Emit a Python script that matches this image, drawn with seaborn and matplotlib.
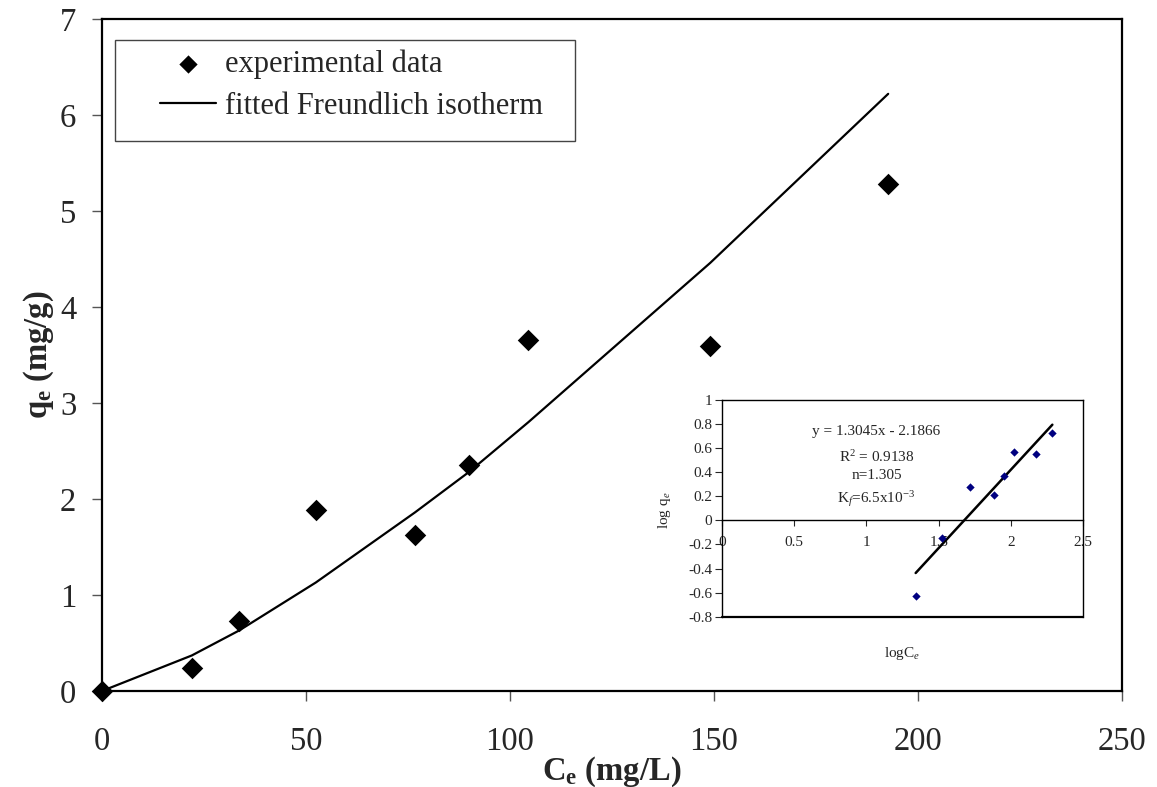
import matplotlib
matplotlib.use("Agg")
import matplotlib.pyplot as plt
from matplotlib.patches import Rectangle
import seaborn as sns
import pandas as pd

# ---- data ----
ce_exp = [0, 22.0, 33.6, 52.4, 76.7, 89.9, 104.5, 149.1, 192.7]
qe_exp = [0, 0.24, 0.73, 1.885, 1.62, 2.35, 3.66, 3.59, 5.28]
qe_fit = [0, 0.37, 0.63, 1.13, 1.86, 2.28, 2.80, 4.46, 6.22]

log_ce = [1.341, 1.525, 1.717, 1.885, 1.952, 2.018, 2.175, 2.286]
log_qe = [-0.626, -0.144, 0.277, 0.208, 0.366, 0.565, 0.554, 0.726]
trend_x = [1.341, 2.286]
trend_y = [-0.437, 0.795]

x_ticks = [0, 50, 100, 150, 200, 250]
y_ticks = [0, 1, 2, 3, 4, 5, 6, 7]
in_x_ticks = [0, 0.5, 1, 1.5, 2, 2.5]
in_x_labels = ["0", "0.5", "1", "1.5", "2", "2.5"]
in_y_ticks = [-0.8, -0.6, -0.4, -0.2, 0, 0.2, 0.4, 0.6, 0.8, 1]
in_y_labels = ["-0.8", "-0.6", "-0.4", "-0.2", "0", "0.2", "0.4", "0.6", "0.8", "1"]

inset_text = ["y = 1.3045x - 2.1866", r"R$^2$ = 0.9138", "n=1.305",
              r"K$_f$=6.5x10$^{-3}$"]

sns.set_style("ticks")
plt.rcParams["font.family"] = ["Liberation Serif", "DejaVu Serif"]
plt.rcParams["mathtext.fontset"] = "custom"
plt.rcParams["mathtext.rm"] = "Liberation Serif"
plt.rcParams["mathtext.it"] = "Liberation Serif:italic"
plt.rcParams["mathtext.bf"] = "Liberation Serif:bold"

fig = plt.figure(figsize=(11.57, 7.87), dpi=100)
ax = fig.add_axes([0.0882, 0.122, 0.8815, 0.8539])

df_exp = pd.DataFrame({"Ce": ce_exp, "qe": qe_exp})
df_fit = pd.DataFrame({"Ce": ce_exp, "qe": qe_fit})

sns.scatterplot(data=df_exp, x="Ce", y="qe", ax=ax, marker="D", s=120,
                color="black", edgecolor="black", linewidth=0,
                label="experimental data", clip_on=False, zorder=3)
sns.lineplot(data=df_fit, x="Ce", y="qe", ax=ax, color="black", lw=1.6,
             sort=False, label="fitted Freundlich isotherm", zorder=2)

ax.set_xlim(0, 250)
ax.set_ylim(0, 7)
ax.set_xticks(x_ticks)
ax.set_yticks(y_ticks)
ax.tick_params(axis="both", labelsize=23.5, length=7.5, width=1, color="#555555",
               direction="out")
ax.tick_params(axis="x", pad=18)
ax.tick_params(axis="y", pad=11)
for sp in ax.spines.values():
    sp.set_visible(True)
    sp.set_color("black")
    sp.set_linewidth(1.6)

ax.set_xlabel(r"$\mathbf{C_e}$ (mg/L)", fontsize=23.5, fontweight="bold", labelpad=-2)
ax.set_ylabel(r"$\mathbf{q_e}$ (mg/g)", fontsize=23.5, fontweight="bold", labelpad=3)

# legend frame (drawn as in the reference, with wide side margins)
ax.add_patch(Rectangle((0.0127, 0.8185), 0.451, 0.1503, transform=ax.transAxes,
                       facecolor="white", edgecolor="#444444", lw=1.0, zorder=4))
leg = ax.legend(loc="upper left", bbox_to_anchor=(0.0475, 0.9688),
                borderaxespad=0, fontsize=22, frameon=False,
                handlelength=1.83, handletextpad=0.3, labelspacing=0.42,
                borderpad=0.31, markerscale=0.85)
leg.set_zorder(5)

# ---- inset ----
ins = fig.add_axes([0.6238, 0.2164, 0.3125, 0.2753])
ins.set_facecolor("white")
df_log = pd.DataFrame({"logC": log_ce, "logq": log_qe})
df_tr = pd.DataFrame({"x": trend_x, "y": trend_y})
sns.lineplot(data=df_tr, x="x", y="y", ax=ins, color="black", lw=1.8,
             sort=False, zorder=2)
sns.scatterplot(data=df_log, x="logC", y="logq", ax=ins, marker="D", s=18,
                color="#000080", edgecolor="#000080", linewidth=0, zorder=3)
ins.set_xlim(0, 2.5)
ins.set_ylim(-0.8, 1)
ins.set_xticks(in_x_ticks)
ins.set_xticklabels(in_x_labels)
ins.set_yticks(in_y_ticks)
ins.set_yticklabels(in_y_labels)
for sp in ins.spines.values():
    sp.set_visible(True)
    sp.set_color("black")
    sp.set_linewidth(1.0)
ins.spines["bottom"].set_position(("data", 0))
ins.axhline(-0.8, color="black", lw=1.6, clip_on=False, zorder=5)
ins.tick_params(axis="y", labelsize=11, length=5, width=0.8, direction="out", pad=2)
ins.tick_params(axis="x", labelsize=11, length=4, width=0.8, direction="out", pad=7)
ins.set_xlabel("logC$_e$", fontsize=11)
ins.xaxis.set_label_coords(0.5, -0.13)
ins.set_ylabel("log q$_e$", fontsize=11)
ins.yaxis.set_label_coords(-0.135, 0.49)
ypos = [0.74, 0.53, 0.37, 0.18]
for txt, yy in zip(inset_text, ypos):
    ins.text(1.07, yy, txt, fontsize=11, ha="center", va="center")

fig.savefig("out.png", dpi=100)
